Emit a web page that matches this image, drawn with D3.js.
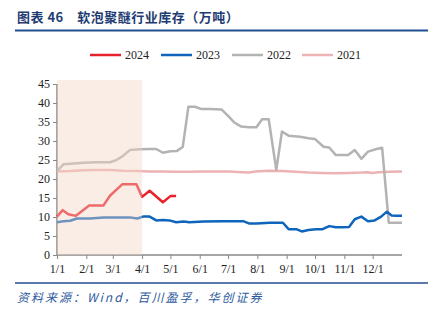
<!DOCTYPE html>
<html><head><meta charset="utf-8">
<script src="https://cdn.jsdelivr.net/npm/d3@7"></script>
<style>
html,body{margin:0;padding:0;background:#fff;}
svg{display:block;}
</style></head>
<body><svg id="c" width="440" height="325"></svg>
<script>
// ---- data (x = day of year) ----
const tickDays = [0,31,59,90,120,151,181,212,243,273,304,334];
const tickLabels = ["1/1","2/1","3/1","4/1","5/1","6/1","7/1","8/1","9/1","10/1","11/1","12/1"];
const yTicks = [0,5,10,15,20,25,30,35,40,45];
const seriesNames = ["2024","2023","2022","2021"];
const seriesColors = ["#E8222B","#0F64BC","#B3B3B3","#EDB3B4"];

const days2024 = [0,6,12,20,34,49,56,69,84,90,98,112,120,126];
const vals2024 = [10.1,11.8,10.7,10.3,13.0,13.0,15.6,18.6,18.6,15.3,16.9,13.9,15.5,15.5];

const days2023 = [0,7,14,21,35,49,63,77,85,91,98,105,112,119,126,134,140,155,176,197,203,211,225,239,245,253,259,266,274,281,288,295,302,309,315,322,329,336,343,349,354,359,365];
const vals2023 = [8.6,8.9,9.0,9.6,9.6,9.9,9.9,9.9,9.6,10.1,10.1,9.1,9.2,9.1,8.6,8.8,8.6,8.8,8.9,8.9,8.3,8.3,8.5,8.5,6.8,6.8,6.2,6.6,6.8,6.8,7.6,7.3,7.3,7.4,9.4,10.1,8.9,9.1,10.1,11.4,10.4,10.3,10.3];

const days2022 = [0,7,14,28,42,56,63,70,77,88,97,105,112,120,127,133,139,146,153,162,174,181,188,195,203,211,217,224,232,238,245,257,266,273,282,288,295,308,315,322,329,338,344,351,365];
const vals2022 = [22.1,23.9,24.0,24.3,24.4,24.4,25.0,26.1,27.6,27.8,27.9,27.9,26.9,27.3,27.4,28.4,39.0,39.0,38.4,38.4,38.3,36.6,34.8,33.8,33.6,33.6,35.7,35.7,22.4,32.5,31.4,31.1,30.7,30.5,28.5,28.3,26.3,26.3,27.6,25.3,27.2,27.9,28.2,8.5,8.5];

const days2021 = [0,14,28,42,56,70,84,98,112,126,140,154,168,182,196,203,210,224,238,252,266,280,294,308,322,329,333,340,352,365];
const vals2021 = [22.0,22.1,22.3,22.4,22.4,22.2,22.1,22.0,22.0,21.9,21.9,22.0,22.0,22.0,21.8,21.7,22.0,22.2,22.1,21.9,21.7,21.6,21.5,21.6,21.7,21.8,21.6,21.8,21.9,22.0];

const shadeDays = [0,90];
const titleText = "图表 46　软泡聚醚行业库存（万吨）";
const sourceText = "资料来源：Wind，百川盈孚，华创证券";

// ---- drawing ----
const svg = d3.select("#c");
const x = d3.scaleLinear().domain([0,365]).range([57,402]);
const y = d3.scaleLinear().domain([0,45]).range([255,84]);
const serif = "'Liberation Serif','Times New Roman',serif";
const cjk = "'Noto Sans CJK SC','Noto Sans CJK JP',sans-serif";

svg.append("text").attr("x",17).attr("y",22)
  .attr("font-family",cjk).attr("font-weight","bold").attr("font-size",13)
  .attr("letter-spacing",0.5)
  .attr("fill","#1E3C72").text(titleText);
svg.append("line").attr("x1",15).attr("x2",428).attr("y1",30.5).attr("y2",30.5)
  .attr("stroke","#1F4E8F").attr("stroke-width",2);

// legend
const lg = svg.append("g");
const legX = [90,161,232,302];
seriesNames.forEach((n,i)=>{
  lg.append("line").attr("x1",legX[i]).attr("x2",legX[i]+31).attr("y1",55).attr("y2",55)
    .attr("stroke",seriesColors[i]).attr("stroke-width",2.5);
  lg.append("text").attr("x",legX[i]+35).attr("y",59).attr("font-family",serif)
    .attr("font-size",12).attr("fill","#222").text(n);
});

// axes
const ya = svg.append("g").attr("transform","translate(57,0)")
  .call(d3.axisLeft(y).tickValues(yTicks).tickSize(4).tickPadding(3).tickFormat(d3.format("d")));
const xa = svg.append("g").attr("transform","translate(0,255)")
  .call(d3.axisBottom(x).tickValues(tickDays).tickSize(4).tickPadding(5).tickFormat((d,i)=>tickLabels[i]));
[ya,xa].forEach(a=>{
  a.selectAll("path").attr("stroke","#888").attr("stroke-width",1.5);
  a.selectAll("line").attr("stroke","#888");
  a.selectAll("text").attr("font-family",serif).attr("font-size",12).attr("fill","#222");
});
ya.select("path.domain").attr("d","M0,84V255");
xa.select("path.domain").attr("d","M57,0H402");

const line = d3.line().x(d=>x(d[0])).y(d=>y(d[1]));
const sets = [[days2021,vals2021,3],[days2022,vals2022,2],[days2023,vals2023,1],[days2024,vals2024,0]];
sets.forEach(([ds,vs,ci])=>{
  svg.append("path").datum(ds.map((d,i)=>[d,vs[i]])).attr("d",line)
    .attr("fill","none").attr("stroke",seriesColors[ci]).attr("stroke-width",2.5)
    .attr("stroke-linejoin","round");
});

// shaded period overlay
svg.append("rect").attr("x",x(shadeDays[0])).attr("y",80)
  .attr("width",x(shadeDays[1])-x(shadeDays[0])).attr("height",255-80)
  .attr("fill","#F3D5C3").attr("opacity",0.42);

svg.append("line").attr("x1",15).attr("x2",428).attr("y1",283).attr("y2",283)
  .attr("stroke","#1F4E8F").attr("stroke-width",1.5);
svg.append("text").attr("x",17).attr("y",302)
  .attr("font-family",cjk).attr("font-style","italic").attr("font-size",12)
  .attr("letter-spacing",2)
  .attr("fill","#2E5A9E").text(sourceText);
</script></body></html>
